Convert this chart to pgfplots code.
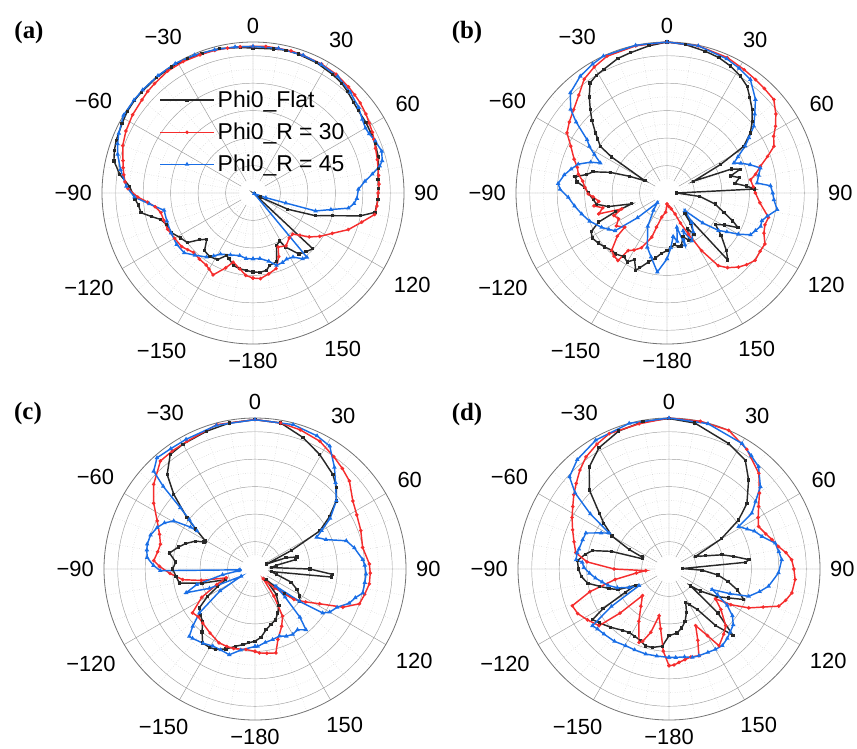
\documentclass[border=0pt]{standalone}
\usepackage{fontspec}
\setmainfont{Liberation Sans}
\newfontfamily\labfont{Liberation Serif}
\usepackage{pgfplots}
\usepgfplotslibrary{polar}
\pgfplotsset{compat=1.18}
\definecolor{cblk}{RGB}{40,40,40}
\definecolor{cred}{RGB}{245,45,45}
\definecolor{cblu}{RGB}{25,110,230}
\pgfplotsset{
  myp/.style={
    scale only axis, width=302bp, height=302bp, anchor=center,
    ymin=0, ymax=55,
    xtick={0,30,...,330},
    xticklabels={90,60,30,0,−30,−60,−90,−120,−150,−180,150,120},
    minor xtick={0,10,...,350},
    ytick={10,20,30,40,50},
    minor ytick={15,25,35,45},
    yticklabels={},
    grid=both,
    major grid style={draw=black!38, line width=0.45bp},
    minor grid style={draw=black!25, dotted, line width=0.45bp},
    axis line style={draw=black!55, line width=0.8bp},
    y axis line style={draw=none},
    ytick style={draw=none}, xtick style={draw=none},
    major tick length=0pt, minor tick length=0pt,
    xticklabel style={font=\fontsize{22}{26}\selectfont, inner xsep=10bp, inner ysep=8.5bp},
    x filter/.expression={90-x},
    clip=false,
  },
  blk/.style={cblk, line width=1.45bp, mark=square*, mark size=0.9bp},
  red/.style={cred, line width=1.45bp, mark=*, mark size=0.95bp},
  blu/.style={cblu, line width=1.45bp, mark=triangle*, mark size=1.2bp},
}
\begin{document}
\begin{tikzpicture}[x=1bp,y=1bp]
\path[use as bounding box] (0,0) rectangle (857,-749);

% ---------------- (a)
\begin{polaraxis}[myp, at={(253bp,-193bp)},
  legend style={at={(0.189,0.838)}, anchor=north west, draw=none, fill=none,
    inner sep=0pt, font=\fontsize{23}{27}\selectfont, row sep=14bp,
    nodes={inner xsep=3bp, inner ysep=0pt}},
  legend cell align=left,
  legend image code/.code={\draw[mark repeat=2,mark phase=2,#1,line width=1.45bp] plot coordinates {(0bp,0bp) (27bp,0bp) (54bp,0bp)};}]
\fill[white] (axis cs:0,0) circle[radius=13.7bp];
\addplot[blk] coordinates {
(-180,28.8) (-175,28.3) (-170,28) (-165,27.4) (-160,25.5) (-157,24.7) (-152,27.5) (-146,28) (-140,27.5) (-135,23.8) (-131,26) (-127,30) (-122,31) (-116,33) (-110,33.5) (-106,35) (-103,38) (-100,41.4) (-96,42) (-93,43) (-87,45) (-82,49) (-77,52) (-73,52.8) (-69,53.4) (-62,54) (-57,54.6) (-52,54.8) (-48,54.8) (-40,54.8) (-33,54.7) (-26,54.5) (-20,54.2) (-13,54) (-5,53.2) (0,52.8) (8,53) (13,53.4) (18,53.2) (26,52.8) (34,52) (39,51.4) (43,50.5) (48,49.3) (52,48.7) (58,48.5) (63,48.2) (68,48) (74,47.5) (79,46.5) (84,45.8) (88,45.8) (93,45.6) (99,45) (102,40) (106,30) (110,24.2) (115,14) (120,3) (124,0.5) (133,29.8) (138,28.8) (143,27.8) (149,23) (151,20) (156,21) (161,26.5) (167,27) (170,28.6) (175,29) (180,28.8)};
\addlegendentry{Phi0\_Flat}
\addplot[red] coordinates {
(-180,31) (-175,30.1) (-170,28) (-164,26.2) (-160,29) (-154,33.2) (-150,32) (-147,31.3) (-141,31) (-135,30.6) (-131,31.5) (-127,32.5) (-120,33) (-113,33.8) (-107,34) (-102,34.3) (-98,36) (-95,38.5) (-92,42) (-88,45.6) (-85,46.8) (-82,47.5) (-79,48.2) (-76,48.8) (-70,50.5) (-64,51.5) (-57,52.3) (-50,52.8) (-46,53.3) (-42,53.6) (-35,54.2) (-28,54.2) (-21,53.9) (-15,53.8) (-10,53.6) (-5,53.5) (0,53.4) (5,53.6) (10,53.5) (15,53.6) (20,53.4) (28,53.2) (35,52.8) (42,52) (46,51.5) (50,51) (55,50.2) (59,49.4) (63,48.8) (66,48.2) (70,47.5) (75,46.9) (82,46.2) (86,46) (90,45.6) (96,45.4) (100,45) (105,41) (111,37.2) (117,32.4) (123,29) (128,26) (132,23) (136,20.8) (141,21) (148,22.7) (155,21.7) (158,25) (163,28.8) (169,30) (175,31.3) (180,31)};
\addlegendentry{Phi0\_R = 30}
\addplot[blu] coordinates {
(-180,24) (-174,24) (-168,23.3) (-160,24) (-152,25.2) (-148,27) (-144,28.8) (-137,31) (-131,33.2) (-124,33.5) (-116,33.2) (-108,33) (-101,33) (-96,38) (-92,43.2) (-87,46.2) (-80,49) (-74,51.3) (-70,52.5) (-66,53.5) (-59,55) (-52,55) (-47,55) (-39,55) (-31,55) (-23,54.6) (-15,54) (-7,53.6) (0,53.4) (10,53.5) (20,53.4) (28,53) (36,52.5) (44,51) (51,49.5) (56,48) (60,47.3) (63,47.5) (67,48.4) (72,49.3) (76,48.5) (78,47.2) (81,44) (84,41) (88,38.4) (93,37.9) (96,37) (99,35.2) (102,29) (106,23.7) (107,12.5) (110,5) (115,0.5) (140,30.6) (143,30) (148,27.5) (153,27) (157,27.5) (162,27.7) (167,25.5) (174,24) (180,24)};
\addlegendentry{Phi0\_R = 45}
\end{polaraxis}

% ---------------- (b)
\begin{polaraxis}[myp, at={(667bp,-193bp)}]
\fill[white] (axis cs:0,0) circle[radius=13.7bp];
\addplot[blk] coordinates {
(-180,21) (-175,22) (-170,24) (-165,26) (-160,29) (-158,30.4) (-154,27) (-150,29) (-146,28) (-140,29) (-136,29) (-131,30) (-126,31) (-121,31.8) (-117,31) (-113,27) (-110,20) (-107,13.5) (-103,22) (-99,26) (-95,27) (-90,28.7) (-86,30) (-83,33) (-80,34) (-77,30) (-74,28) (-70,22) (-66,15) (-61,9.2) (-57,24) (-55,29.7) (-52,32) (-50,34) (-46,38) (-42.6,41.3) (-39,45) (-35,48.9) (-31,50) (-27,50.6) (-20,52.2) (-14.7,52.8) (-7,54) (0,55) (7,54.5) (15,53.5) (21,52.8) (26.6,51.7) (32,50.3) (36.9,48.6) (41,46) (45.6,43.4) (50,40.5) (54.2,37.4) (58.7,32.7) (62,22) (66,10.6) (69.6,25) (72,28) (75,24) (78,27) (82,25) (85,29) (87.4,32) (90,3.5) (96,12) (103,18) (109,22) (113,26) (116,28.8) (119,24) (123,21) (128,25) (134,30) (137.8,33) (139.4,10) (142,14) (147,18) (150,15) (155,19) (160,17) (165,20) (168,20) (172,19) (176,20) (180,21)};
\addplot[red] coordinates {
(-180,4) (-176,7) (-167.6,9) (-163,13) (-161,17) (-155,22) (-150,24) (-146,25.3) (-144,30.4) (-140,30) (-136,29) (-131,24) (-129,19.8) (-123,22) (-118,20) (-113,21) (-109.4,17.5) (-107,26) (-103,24) (-100,27) (-97,25) (-93,27) (-90.7,28.7) (-86,30) (-82,31) (-78,33) (-74,34) (-70,36) (-64,39) (-59,42.5) (-54,44) (-48.2,45.6) (-42,48) (-36,51.3) (-30,53) (-23.7,54.4) (-12,54.8) (0,55) (12,54.8) (24,54) (32,53) (38,52.4) (43,52) (48.8,51.7) (54,49) (58.4,46.4) (62,44) (66.4,42.5) (70,39) (74,35.4) (78,33) (81,30.8) (86,31.5) (90,32.2) (96,34) (103.5,38) (108,37.5) (112.5,38.2) (117.5,40.2) (122,40) (127.4,40.4) (132,39) (136,37.5) (141,35) (144.8,32.4) (149,24.5) (152.5,16.9) (156,12) (159,8.2) (165,6) (172,5) (180,4)};
\addplot[blu] coordinates {
(-180,24) (-173,29) (-166,24) (-160,21) (-150,14) (-142,8) (-135,5) (-130,14) (-126,23.4) (-122,25) (-117.7,26.9) (-110,30) (-103.8,32) (-98,34) (-92.5,36) (-88,39) (-85,39.8) (-80,38) (-76,36) (-72,34) (-68,30) (-65.8,26.6) (-62,30) (-59,33) (-56.3,35) (-52,42) (-49,46.5) (-44,50.7) (-36.6,53) (-30,54.2) (-24.9,55) (-12,55) (0,55) (12,54.8) (24,53.5) (30,52.5) (36.3,51.3) (43.4,46.9) (48,43) (52.4,39.9) (56,36) (59,33.2) (63,29) (65.8,26.7) (68,29) (71.2,32) (75,35.2) (79,34) (83.7,33) (86,37.8) (90,38.5) (93.6,39) (98.6,40.6) (103,37.5) (106.3,36) (109.6,36.2) (113,35) (116.6,34) (120,30) (123,26) (126,23.2) (130,17) (134.5,9.2) (140,14) (146,17) (152.6,19.6) (157,15) (161,20) (164,13) (168,18) (172,16) (176,20) (180,24)};
\end{polaraxis}

% ---------------- (c)
\begin{polaraxis}[myp, at={(255bp,-569bp)}]
\fill[white] (axis cs:0,0) circle[radius=13.7bp];
\addplot[blk] coordinates {
(-180,26.3) (-175,27) (-171,27.9) (-166,29) (-160,31) (-154,32.6) (-150,33) (-144.7,33) (-140,30) (-135,27) (-130,26) (-125,24.8) (-120,20) (-115,15) (-110,11.3) (-105,20) (-100.5,28) (-95.3,28.9) (-90,30) (-85,29) (-79.4,31.7) (-74,29) (-70,27) (-65,24) (-62,21) (-60.5,20.8) (-56,26) (-52.9,31.1) (-47.4,40.2) (-42.9,47) (-36.5,51.9) (-30,52.5) (-19.3,53.2) (-10,54) (0,54.4) (10,54) (20,51) (29.5,47.9) (39.5,44.6) (45,42) (50,38.6) (55,33) (59.5,27.4) (63,15) (66.8,4.6) (70,12) (74,15.9) (77,15) (80,8) (85,6) (90,20) (94,28.4) (96,28) (99,6) (104,8) (110,14) (116,17) (121,19) (126,20) (130,14) (134,5.6) (140,12) (147,16) (152.7,18) (158,20) (164,21) (169.7,22.5) (175,25) (180,26.3)};
\addplot[red] coordinates {
(-180,30) (-173.6,29.5) (-165,30) (-160,30) (-154,29.9) (-145,28.5) (-136,27.4) (-130,27) (-125,27.8) (-118,22) (-112,15) (-107,11) (-102,20) (-98.4,26.6) (-93,31) (-88.4,34.8) (-85.3,37) (-80,36) (-75.3,35.6) (-70,37) (-63.8,39.7) (-57,44) (-50.1,48.1) (-41.2,52.3) (-35,52.5) (-28,52.7) (-14.8,54.4) (0,54.4) (10,54) (18,53.3) (26.9,52.2) (35,50) (41,48.5) (47,47) (55.2,43.4) (62,42) (70,41) (78.7,40) (87.5,41.7) (92,42) (97.4,42) (103,41) (108.4,40.1) (113.5,34.9) (118.3,26.7) (123,22) (128,18) (134,10) (140,4.7) (145,12) (149.7,19.9) (155,23) (162,27) (166,31.5) (172,31) (177,30.6) (180,30)};
\addplot[blu] coordinates {
(-180,28.2) (-170,30) (-163.3,32.6) (-157,32) (-151.3,32) (-145,33) (-138,34) (-135.7,34.3) (-132.6,30.8) (-128.3,25.8) (-122,15) (-117.6,5.7) (-113,18) (-109,26.5) (-105,22) (-100,12) (-96,6) (-93,5.5) (-91,34.5) (-88,37) (-83.9,39.5) (-80,40) (-77,40.3) (-72,40) (-67,38.7) (-63,37) (-59.4,34.4) (-57,28) (-56.7,25.3) (-53,30) (-50.6,35.2) (-48,45) (-46,51.3) (-41.4,54) (-35,53.5) (-28,53.5) (-15,54.2) (0,54.4) (14.8,54.4) (25,53.5) (31.3,52.4) (38,47) (43,43) (50,38.7) (56,33) (60,28) (62.8,25.2) (67.5,28) (72.8,34.8) (78,37) (85,39.4) (88,40) (92.6,40.5) (97,40.3) (102.6,40.2) (106,38) (110,36.5) (115,33) (120,31.4) (123,29.4) (126,20) (129.5,9.9) (133,15) (137,24) (140,28.9) (145,27) (150,27.5) (155,27) (160,26) (166,26.5) (172,27) (178,28.2) (180,28.2)};
\end{polaraxis}

% ---------------- (d)
\begin{polaraxis}[myp, at={(669bp,-569bp)}]
\fill[white] (axis cs:0,0) circle[radius=13.7bp];
\addplot[blk] coordinates {
(-180,24.3) (-175,28.2) (-168,29.2) (-163,29.3) (-158,28) (-153,27.5) (-147.7,27.3) (-143,28) (-135,30) (-128,32) (-123.5,33.4) (-121,28) (-118,18) (-116,13.6) (-112,20) (-108,23) (-104,26) (-100,30) (-95,32) (-90,33) (-84.8,33.5) (-80,31) (-76.5,28.7) (-73,22) (-69,10.4) (-66,10.7) (-64,16) (-60,24) (-55,29) (-51.3,32.5) (-45.2,40.9) (-38,47.2) (-30,51) (-20,53.5) (-10,54.5) (0,54.8) (10,54) (25.5,50.6) (35,48.4) (41.8,43.5) (49.9,37.1) (54.8,31) (60,22) (64.6,10.7) (70,14) (75,20) (79,24) (83.3,29.3) (85,28) (88,5) (92,12) (97,18) (102,22) (107,26) (112.2,29.4) (116,24) (120,20) (125,14) (128,10) (132,24) (136,33.5) (140.5,26.7) (145,18) (150,15) (153.4,13.6) (158,17) (163,20) (168,22) (173,23.5) (180,24.3)};
\addplot[red] coordinates {
(-180,35.2) (-176,30) (-172,22) (-168,17.4) (-164,24) (-160,28) (-157.8,28.9) (-150,22) (-143,17) (-135,13.7) (-132,24) (-129,32.8) (-122,35) (-116,37) (-110.8,37.7) (-106,30) (-101,20) (-97,12) (-94,8.5) (-90,20) (-85,30) (-80,34.5) (-74,36) (-67.9,37.9) (-62,40) (-57,41.8) (-52,44) (-47.3,46) (-42,48.5) (-36.5,50.8) (-30,52.5) (-23.8,53.9) (-11.6,54) (0,55) (12,55) (23.3,55) (33,52) (43.2,47.8) (50,43) (55.1,39.8) (60,37.5) (64.6,36.1) (70,37.5) (74,39) (78.4,40.7) (82,43) (85.7,44.8) (90,45.5) (94.8,46.1) (101,45.6) (105,44) (108.7,42.2) (112,37) (116,32.3) (120,26) (122.7,20.1) (128,24) (135,29.2) (140,31) (146.9,33.4) (150,28) (154.8,22.8) (158,28) (161,33.4) (166,33) (170,33.5) (173.9,34.2) (177,35) (180,35.2)};
\addplot[blu] coordinates {
(-180,32.2) (-172,32) (-164.7,32.1) (-157,32) (-150.5,32.1) (-143,33) (-135,33.5) (-130,34) (-126.5,34.7) (-123,25) (-119,12.5) (-115,16) (-110,20) (-105,23) (-101,24.8) (-97,27) (-93,29) (-89,31) (-85.6,31.7) (-84.3,34) (-80,34) (-77.5,33.6) (-71.3,33.2) (-66.6,33) (-62,28) (-59,25.4) (-55,35) (-51,44) (-47.2,49.4) (-40,52) (-29.6,54) (-15.3,55) (0,55) (15,54.8) (30.2,52.9) (36,51) (41.2,49.5) (48,44.8) (52,40) (56,36.4) (58.6,29.7) (63,32) (66,34) (70.7,35.9) (76.3,39.8) (81,40.5) (85.3,41.2) (92,39.9) (99.8,36.8) (104,34) (108.9,30.7) (112,24) (115.5,17.4) (118,20) (122,25) (126.4,28.7) (131,31) (136,32) (140,33) (145.2,34) (150,33.8) (155,33.5) (161,33.4) (165.2,33.3) (170,32.5) (175.7,32.3) (180,32.2)};
\end{polaraxis}

\node at (29,-33) {\labfont\bfseries\fontsize{25}{29}\selectfont (a)};
\node at (467,-33) {\labfont\bfseries\fontsize{25}{29}\selectfont (b)};
\node at (28,-414) {\labfont\bfseries\fontsize{25}{29}\selectfont (c)};
\node at (467,-415) {\labfont\bfseries\fontsize{25}{29}\selectfont (d)};
\end{tikzpicture}
\end{document}
